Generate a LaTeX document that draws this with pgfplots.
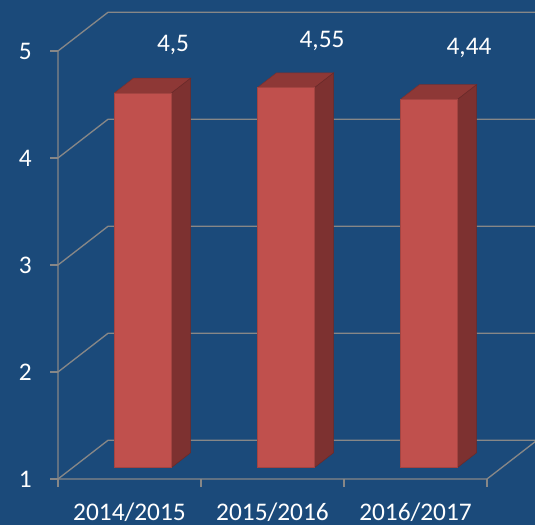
\documentclass[border=0pt]{standalone}
\usepackage{fontspec}
\setmainfont{Carlito}
\usepackage{pgfplots}
\pgfplotsset{compat=1.18}
\usetikzlibrary{backgrounds,calc}
\definecolor{bg}{HTML}{1B4A7A}
\definecolor{barfront}{HTML}{C0504D}
\definecolor{bartop}{HTML}{8E3836}
\definecolor{barside}{HTML}{7D3130}
\definecolor{gridc}{HTML}{878787}
\begin{document}
\begin{tikzpicture}[lbl/.style={text=white,font=\fontsize{19}{23}\selectfont,inner sep=0pt}]
\begin{axis}[
  x={(107.25pt,0pt)}, y={(37.5pt,29.025pt)}, z={(0pt,80.25pt)},
  xmin=0,xmax=3,ymin=0,ymax=1,zmin=1,zmax=5,
  hide axis, clip=false,
]
% walls and grid
\pgfplotsinvokeforeach{1,2,3,4,5}{
  \draw[gridc,line width=1pt] (axis cs:0,0,#1) -- (axis cs:0,1,#1) -- (axis cs:3,1,#1);
  \draw[gridc,line width=1pt] (axis cs:0,0,#1) -- ++(-6pt,0pt);
  \node[lbl,anchor=east] at ($(axis cs:0,0,#1)+(-19.5pt,0pt)$) {#1};
}
\draw[gridc,line width=1pt] (axis cs:0,0,5) -- (axis cs:0,0,1) -- (axis cs:3,0,1) -- (axis cs:3,1,1);
\pgfplotsinvokeforeach{0,1,2,3}{
  \draw[gridc,line width=1pt] (axis cs:#1,0,1) -- ++(0pt,-6pt);
}
\node[lbl] at ($(axis cs:0.5,0,1)+(0pt,-24.75pt)$) {2014/2015};
\node[lbl] at ($(axis cs:1.5,0,1)+(0pt,-24.75pt)$) {2015/2016};
\node[lbl] at ($(axis cs:2.5,0,1)+(0pt,-24.75pt)$) {2016/2017};

% bar 1: 4.5
\addplot3[fill=bartop,draw=bartop!85!black,line width=0.4pt,mark=none] coordinates {(0.29,0.3,4.5) (0.69,0.3,4.5) (0.69,0.68,4.5) (0.29,0.68,4.5) (0.29,0.3,4.5)};
\addplot3[fill=barside,draw=barside!85!black,line width=0.4pt,mark=none] coordinates {(0.69,0.3,1) (0.69,0.68,1) (0.69,0.68,4.5) (0.69,0.3,4.5) (0.69,0.3,1)};
\addplot3[fill=barfront,draw=barfront!85!black,line width=0.4pt,mark=none] coordinates {(0.29,0.3,1) (0.69,0.3,1) (0.69,0.3,4.5) (0.29,0.3,4.5) (0.29,0.3,1)};
% bar 2: 4.55
\addplot3[fill=bartop,draw=bartop!85!black,line width=0.4pt,mark=none] coordinates {(1.29,0.3,4.55) (1.69,0.3,4.55) (1.69,0.68,4.55) (1.29,0.68,4.55) (1.29,0.3,4.55)};
\addplot3[fill=barside,draw=barside!85!black,line width=0.4pt,mark=none] coordinates {(1.69,0.3,1) (1.69,0.68,1) (1.69,0.68,4.55) (1.69,0.3,4.55) (1.69,0.3,1)};
\addplot3[fill=barfront,draw=barfront!85!black,line width=0.4pt,mark=none] coordinates {(1.29,0.3,1) (1.69,0.3,1) (1.69,0.3,4.55) (1.29,0.3,4.55) (1.29,0.3,1)};
% bar 3: 4.44
\addplot3[fill=bartop,draw=bartop!85!black,line width=0.4pt,mark=none] coordinates {(2.29,0.3,4.44) (2.69,0.3,4.44) (2.69,0.68,4.44) (2.29,0.68,4.44) (2.29,0.3,4.44)};
\addplot3[fill=barside,draw=barside!85!black,line width=0.4pt,mark=none] coordinates {(2.69,0.3,1) (2.69,0.68,1) (2.69,0.68,4.44) (2.69,0.3,4.44) (2.69,0.3,1)};
\addplot3[fill=barfront,draw=barfront!85!black,line width=0.4pt,mark=none] coordinates {(2.29,0.3,1) (2.69,0.3,1) (2.69,0.3,4.44) (2.29,0.3,4.44) (2.29,0.3,1)};

\node[lbl] at ($(axis cs:0.49,0.3,4.5)+(22.5pt,36pt)$) {4,5};
\node[lbl] at ($(axis cs:1.49,0.3,4.55)+(27pt,35.25pt)$) {4,55};
\node[lbl] at ($(axis cs:2.49,0.3,4.44)+(30pt,38.25pt)$) {4,44};

\coordinate (O) at (axis cs:0,0,1);
\end{axis}
\begin{scope}[on background layer]
  \fill[bg] ($(O)+(-43.5pt,-34.5pt)$) rectangle ($(O)+(357.75pt,359.25pt)$);
\end{scope}
\pgfresetboundingbox
\path[use as bounding box] ($(O)+(-43.5pt,-34.5pt)$) rectangle ($(O)+(357.75pt,359.25pt)$);
\end{tikzpicture}
\end{document}
